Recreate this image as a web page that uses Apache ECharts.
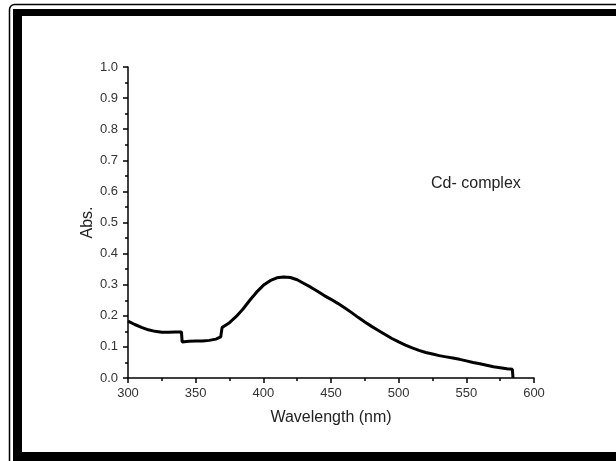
<!DOCTYPE html>
<html>
<head>
<meta charset="utf-8">
<script src="https://cdn.jsdelivr.net/npm/echarts@6/dist/echarts.min.js"></script>
<style>
html,body{margin:0;padding:0;background:#fff;}
#c{width:616px;height:461px;}
</style>
</head>
<body>
<div id="c"></div>
<script>
var wavelength = [300, 305, 310, 315, 320, 325, 330, 335, 339.5, 340, 345, 350, 355, 360, 365, 368.5, 369.5, 375, 380, 385, 390, 395, 400, 405, 410, 415, 420, 425, 430, 435, 440, 445, 450, 455, 460, 465, 470, 475, 480, 485, 490, 495, 500, 505, 510, 515, 520, 525, 530, 535, 540, 545, 550, 555, 560, 565, 570, 575, 580, 584, 584.5];
var absorbance = [0.183, 0.172, 0.163, 0.155, 0.150, 0.147, 0.147, 0.148, 0.148, 0.116, 0.118, 0.119, 0.119, 0.121, 0.125, 0.132, 0.162, 0.178, 0.198, 0.222, 0.250, 0.276, 0.298, 0.313, 0.322, 0.325, 0.323, 0.316, 0.304, 0.292, 0.279, 0.265, 0.253, 0.240, 0.226, 0.211, 0.195, 0.180, 0.166, 0.153, 0.140, 0.127, 0.116, 0.106, 0.097, 0.089, 0.082, 0.077, 0.072, 0.068, 0.064, 0.060, 0.055, 0.050, 0.046, 0.041, 0.036, 0.033, 0.030, 0.028, 0.0];
var xTicks = {min: 300, max: 600, step: 50};
var yTicks = {min: 0, max: 1, step: 0.1};
var seriesLabel = 'Cd- complex';
var xTitle = 'Wavelength (nm)';
var yTitle = 'Abs.';

var pts = wavelength.map(function (w, i) { return [w, absorbance[i]]; });
var font = 'Arial, "Liberation Sans", Helvetica, sans-serif';

var chart = echarts.init(document.getElementById('c'), null, {renderer: 'canvas'});
chart.setOption({
  animation: false,
  backgroundColor: '#fff',
  grid: {left: 128, right: 82, top: 67, bottom: 83, containLabel: false},
  xAxis: {
    type: 'value', min: xTicks.min, max: xTicks.max, interval: xTicks.step,
    name: xTitle, nameLocation: 'middle', nameGap: 32, nameMoveOverlap: false,
    nameTextStyle: {fontFamily: font, fontSize: 16, color: '#222'},
    axisLine: {show: true, onZero: false, lineStyle: {color: '#000', width: 1.5}},
    axisTick: {show: true, inside: false, length: 5, lineStyle: {color: '#000', width: 1.5}},
    minorTick: {show: true, splitNumber: 2, length: 3, lineStyle: {color: '#000', width: 1.5}},
    axisLabel: {fontFamily: font, fontSize: 13, color: '#333', margin: 9},
    splitLine: {show: false}
  },
  yAxis: {
    type: 'value', min: yTicks.min, max: yTicks.max, interval: yTicks.step,
    name: yTitle, nameLocation: 'middle', nameGap: 32, nameRotate: 90, nameMoveOverlap: false,
    nameTextStyle: {fontFamily: font, fontSize: 16, color: '#222'},
    axisLine: {show: true, onZero: false, lineStyle: {color: '#000', width: 1.5}},
    axisTick: {show: true, inside: false, length: 5, lineStyle: {color: '#000', width: 1.5}},
    minorTick: {show: true, splitNumber: 2, length: 3, lineStyle: {color: '#000', width: 1.5}},
    axisLabel: {fontFamily: font, fontSize: 13, color: '#333', margin: 10,
      formatter: function (v) { return v.toFixed(1); }},
    splitLine: {show: false}
  },
  series: [{
    type: 'line', data: pts, showSymbol: false, symbol: 'none',
    lineStyle: {color: '#000', width: 3}, smooth: false, clip: false
  }],
  graphic: [
    {type: 'rect', shape: {x: 9.5, y: 4.5, width: 800, height: 600, r: [5, 0, 0, 0]},
      style: {fill: null, stroke: '#000', lineWidth: 1.5}, silent: true},
    {type: 'rect', shape: {x: 13, y: 9, width: 9, height: 452}, style: {fill: '#000'}, silent: true},
    {type: 'rect', shape: {x: 13, y: 9, width: 603, height: 7}, style: {fill: '#000'}, silent: true},
    {type: 'rect', shape: {x: 13, y: 452, width: 603, height: 9}, style: {fill: '#000'}, silent: true},
    {type: 'text', left: 431, top: 176,
      style: {text: seriesLabel, font: '16px ' + font, fill: '#222'}, silent: true}
  ]
});
</script>
</body>
</html>
